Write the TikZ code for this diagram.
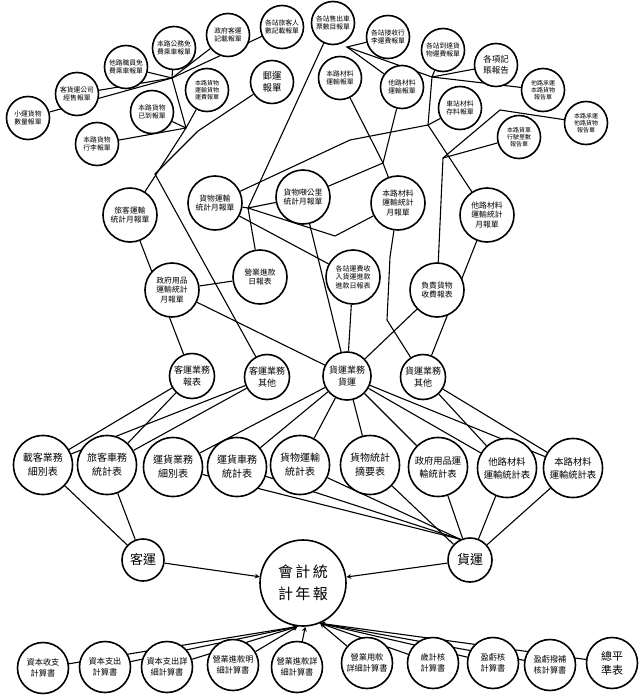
\documentclass[tikz,border=0pt]{standalone}
\usepackage{fontspec}
\newfontfamily\cjk{Noto Sans CJK TC}
\usetikzlibrary{arrows,backgrounds}

\begin{document}
\begin{tikzpicture}[x=1pt,y=-1pt,
  bl/.style={circle,draw,fill=white,line width=1.6pt,inner sep=0pt,align=center},
  sm/.style={bl,minimum size=43pt,font=\cjk\fontsize{6.8}{8}\selectfont},
  smt/.style={bl,minimum size=43pt,font=\cjk\fontsize{6}{7}\selectfont},
  md/.style={bl,minimum size=54pt,font=\cjk\fontsize{7.8}{9.5}\selectfont},
  yw/.style={bl,minimum size=45pt,font=\cjk\fontsize{9}{12}\selectfont},
  tb/.style={bl,minimum size=59pt,font=\cjk\fontsize{10}{14}\selectfont},
  js/.style={bl,minimum size=51pt,font=\cjk\fontsize{8.2}{11}\selectfont},
  ln/.style={line width=1.1pt}]
\useasboundingbox (0,0) rectangle (640,696);
%top ring
\node[sm] (a1) at (28,118) {小運貨物\\數量報單};
\node[sm] (a2) at (77,94) {客貨運公司\\經售報單};
\node[sm] (a3) at (126,67) {他路職員免\\費乘車報單};
\node[sm] (a4) at (174,48) {本路公務免\\費乘車報單};
\node[sm] (a5) at (228,35) {政府客運\\記載報單};
\node[sm] (a6) at (282,27) {各站旅客人\\數記載報單};
\node[sm] (a7) at (333,23) {各站售出車\\票數目報單};
\node[sm] (a8) at (388,37) {各站接收行\\李運費報單};
\node[sm] (a9) at (443,50) {各站到達貨\\物運費報單};
\node[sm,font=\cjk\fontsize{8.5}{10.5}\selectfont] (a10) at (496,65) {各項記\\賬報告};
\node[smt] (a11) at (543,90) {他路承運\\本路貨物\\報告單};
\node[smt] (a12) at (586,123) {本路承運\\他路貨物\\報告單};
%second ring
\node[sm] (b1) at (152,112) {本路貨物\\已到報單};
\node[smt] (b2) at (207,90) {本路貨物\\運輸貨物\\運費報單};
\node[sm] (b3) at (97,144) {本路貨物\\行李報單};
\node[sm,font=\cjk\fontsize{9.5}{12.5}\selectfont] (b4) at (272,82) {郵運\\報單};
\node[sm] (b5) at (340,78) {本路材料\\運輸報單};
\node[sm] (b6) at (402,87) {他路材料\\運輸報單};
\node[sm] (b7) at (460,108) {車站材料\\存料報單};
\node[smt] (b8) at (519,137) {本路貨車\\行駛里數\\報告單};
%monthly
\node[md] (c1) at (130,215) {旅客運輸\\統計月報單};
\node[md] (c2) at (215,203) {貨物運輸\\統計月報單};
\node[md] (c3) at (303,197) {貨物噸公里\\統計月報單};
\node[md] (c4) at (398,203) {本路材料\\運輸統計\\月報單};
\node[md] (c5) at (487,215) {他路材料\\運輸統計\\月報單};
\node[md] (c6) at (172,290) {政府用品\\運輸統計\\月報單};
\node[md] (d1) at (260,277) {營業進款\\日報表};
\node[md,font=\cjk\fontsize{7}{8.5}\selectfont] (d2) at (353,277) {各站運費收\\入貨運進款\\進款日報表};
\node[md] (d3) at (437,290) {負責貨物\\收費報表};
%business
\node[yw] (e1) at (192,376) {客運業務\\報表};
\node[yw] (e2) at (267,377) {客運業務\\其他};
\node[yw,minimum size=48pt] (e3) at (347,376) {貨運業務\\貨運};
\node[yw] (e4) at (423,377) {貨運業務\\其他};
%tables
\node[tb] (f1) at (43,465) {載客業務\\細別表};
\node[tb] (f2) at (107,465) {旅客車務\\統計表};
\node[tb] (f3) at (173,467) {運貨業務\\細別表};
\node[tb] (f4) at (237,467) {運貨車務\\統計表};
\node[tb] (f5) at (300,465) {貨物運輸\\統計表};
\node[tb] (f6) at (370,465) {貨物統計\\摘要表};
\node[tb,font=\cjk\fontsize{9.3}{13}\selectfont] (f7) at (438,467) {政府用品運\\輸統計表};
\node[tb,font=\cjk\fontsize{9.3}{13}\selectfont] (f8) at (507,468) {他路材料\\運輸統計表};
\node[tb,font=\cjk\fontsize{9.3}{13}\selectfont] (f9) at (573,468) {本路材料\\運輸統計表};
\node[bl,minimum size=42pt,font=\cjk\fontsize{13}{15}\selectfont] (k) at (143,560) {客運};
\node[bl,minimum size=44pt,font=\cjk\fontsize{13}{15}\selectfont] (h) at (470,560) {貨運};
\node[bl,minimum size=86pt,font=\cjk\fontsize{15}{22}\selectfont] (m) at (303,583) {會\,計\,統\\計\,年\,報};
%accounts
\node[js] (g1) at (43,668) {資本收支\\計算書};
\node[js] (g2) at (105,667) {資本支出\\計算書};
\node[js] (g3) at (167,667) {資本支出詳\\細計算書};
\node[js] (g4) at (233,665) {營業進款明\\細計算書};
\node[js] (g5) at (297,667) {營業進款詳\\細計算書};
\node[js] (g6) at (367,663) {營業用款\\詳細計算書};
\node[js] (g7) at (433,663) {歲計核\\計算書};
\node[js] (g8) at (493,663) {盈虧核\\計算書};
\node[js] (g9) at (550,665) {盈虧撥補\\核計算書};
\node[js,font=\cjk\fontsize{11}{14}\selectfont] (g10) at (612,663) {總平\\準表};
%bends
\coordinate (j1) at (172,78);
\coordinate (t1) at (186,128);
\coordinate (t2) at (198,131);
\coordinate (t3) at (155,174);
\coordinate (j2) at (248,208);
\coordinate (j3) at (347,47);
\coordinate (j4) at (432,77);
\coordinate (j6) at (428,125);
\coordinate (j7) at (500,110);
\coordinate (j8) at (443,158);
\coordinate (j9) at (383,163);
\coordinate (j10) at (390,257);
\coordinate (j11) at (387,320);
\coordinate (j12) at (335,236);
\coordinate (j13) at (350,140);
\begin{scope}[on background layer]
\fill[white] (0,0) rectangle (640,696);
\foreach \n in {a1,a2,a3,a4,a5,a6} \draw[ln] (\n) -- (j1);
\draw[ln] (j1) -- (t1) -- (c1);
\foreach \n in {b1,b2,b3} \draw[ln] (\n) -- (t1);
\draw[ln] (b4) -- (t2) -- (t3) -- (e2);
\draw[ln] (a7) -- (j2);
\draw[ln] (a8) -- (j3) -- (j4);
\draw[ln] (j3) -- (b6);
\foreach \n in {a9,a10,a11} \draw[ln] (\n) -- (j4);
\draw[ln] (j4) -- (j6) -- (c5);
\draw[ln] (c2) -- (j13) -- (j6);
\draw[ln] (b7) -- (j6);
\draw[ln] (a12) -- (j7) -- (j8) -- (d3);
\draw[ln] (b8) -- (j8);
\draw[ln] (b5) -- (j9) -- (c4);
\draw[ln] (b6) -- (j9);
\draw[ln] (c3) -- (j9);
\draw[ln] (c2) -- (j2) -- (c3);
\draw[ln] (j2) -- (j12) -- (c4);
\draw[ln] (j2) -- (d1);
\draw[ln] (c3) -- (e3);
\draw[ln] (c2) -- (d2);
\draw[ln] (c6) -- (d1);
\draw[ln] (c6) -- (e3);
\draw[ln] (c1) -- (e1);
\draw[ln] (d2) -- (e3);
\draw[ln] (d3) -- (e3);
\draw[ln] (c4) -- (j10) -- (j11) -- (e4);
\draw[ln] (c5) -- (e4);
\foreach \n in {f1,f2} {\draw[ln] (e1) -- (\n); \draw[ln] (e2) -- (\n); \draw[ln] (\n) -- (k);}
\foreach \n in {f3,f4,f5,f6,f7,f8,f9} \draw[ln] (e3) -- (\n);
\foreach \n in {f8,f9} \draw[ln] (e4) -- (\n);
\foreach \n in {f3,f4,f5} \draw[ln] (\n) -- (h.115);
\foreach \n in {f6,f7,f8,f9} \draw[ln] (\n) -- (h);
\draw[ln,-stealth] (k) -- (m);
\draw[ln,-stealth] (h) -- (m);
\foreach \n in {g1,g2,g3,g4} \draw[ln,-stealth] (\n) -- (m.263);
\draw[ln,-stealth] (g5) -- (m.273);
\foreach \n in {g6,g7,g8,g9,g10} \draw[ln,-stealth] (\n) -- (m.293);
\end{scope}
\end{tikzpicture}
\end{document}
